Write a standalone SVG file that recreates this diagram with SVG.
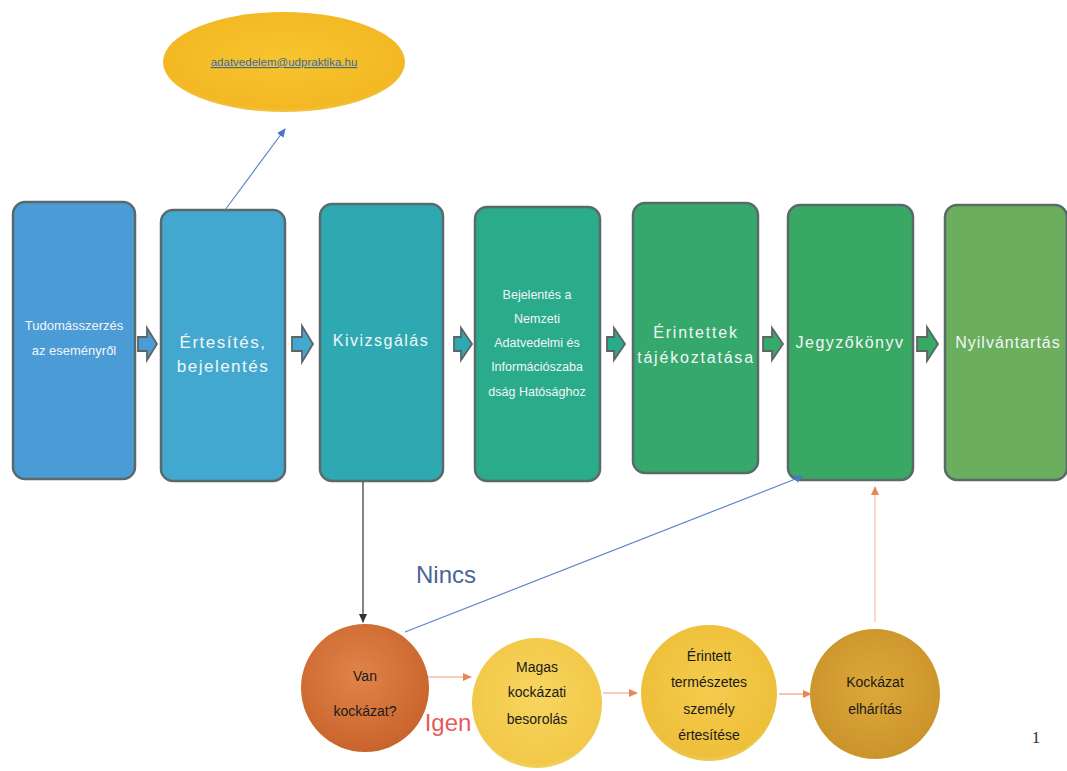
<svg xmlns="http://www.w3.org/2000/svg" width="1067" height="771" viewBox="0 0 1067 771">
<defs>
<style>
.box{stroke:#5a6a6a;stroke-width:2.5}
.bt{font-family:"Liberation Sans Narrow","Liberation Sans",sans-serif;fill:#f2f6f6;text-anchor:middle}
.ct{font-family:"Liberation Sans Narrow","Liberation Sans",sans-serif;fill:#1a1a1a;text-anchor:middle;font-size:14px}
.ba{stroke:#5e6464;stroke-width:1.8}
</style>
<radialGradient id="gO" cx="0.45" cy="0.4" r="0.6"><stop offset="0" stop-color="#e0844a"/><stop offset="1" stop-color="#c9642c"/></radialGradient>
<radialGradient id="gY" cx="0.5" cy="0.45" r="0.6"><stop offset="0" stop-color="#f7d660"/><stop offset="0.85" stop-color="#f2c848"/><stop offset="1" stop-color="#e8e07a"/></radialGradient>
<radialGradient id="gY2" cx="0.5" cy="0.45" r="0.6"><stop offset="0" stop-color="#f5cc4e"/><stop offset="0.85" stop-color="#eebf3a"/><stop offset="1" stop-color="#e2dc70"/></radialGradient>
<radialGradient id="gB" cx="0.5" cy="0.45" r="0.6"><stop offset="0" stop-color="#dca83a"/><stop offset="1" stop-color="#c9922a"/></radialGradient>
<radialGradient id="gE" cx="0.5" cy="0.45" r="0.6"><stop offset="0" stop-color="#f7c52e"/><stop offset="0.85" stop-color="#f3b824"/><stop offset="1" stop-color="#f0d070"/></radialGradient>
<marker id="mb" markerWidth="10" markerHeight="10" refX="8" refY="5" orient="auto" markerUnits="userSpaceOnUse"><path d="M0,1 L9,5 L0,9 z" fill="#4a78c0"/></marker>
<marker id="mk" markerWidth="10" markerHeight="10" refX="8" refY="5" orient="auto" markerUnits="userSpaceOnUse"><path d="M0,1 L9,5 L0,9 z" fill="#333"/></marker>
<marker id="mo" markerWidth="10" markerHeight="10" refX="8" refY="5" orient="auto" markerUnits="userSpaceOnUse"><path d="M0,1 L9,5 L0,9 z" fill="#e8885a"/></marker>
</defs>
<rect width="1067" height="771" fill="#ffffff"/>

<g id="email">
<ellipse cx="284" cy="62" rx="121" ry="50" fill="url(#gE)"/>
<text x="284" y="66" font-family="Liberation Sans Narrow,Liberation Sans,sans-serif" font-size="11.5" fill="#3a6aa0" text-anchor="middle" text-decoration="underline">adatvedelem@udpraktika.hu</text>
</g>

<g id="n1"><rect class="box" x="13" y="202" width="122" height="277" rx="12" fill="#4b9bd6"/>
<text class="bt" font-size="13"><tspan x="74" y="330">Tudomásszerzés</tspan><tspan x="74" y="355">az eseményről</tspan></text></g>
<g id="n2"><rect class="box" x="161" y="210" width="124" height="271" rx="12" fill="#42a8d0"/>
<text class="bt" font-size="17" letter-spacing="1.5"><tspan x="223" y="348">Értesítés,</tspan><tspan x="223" y="372">bejelentés</tspan></text></g>
<g id="n3"><rect class="box" x="320" y="204" width="123" height="277" rx="12" fill="#2ea9b2"/>
<text class="bt" font-size="16" letter-spacing="1.5" x="381" y="346">Kivizsgálás</text></g>
<g id="n4"><rect class="box" x="475" y="207" width="125" height="274" rx="12" fill="#2aab8c"/>
<text class="bt" font-size="12.5"><tspan x="537" y="299">Bejelentés a</tspan><tspan x="537" y="323">Nemzeti</tspan><tspan x="537" y="347">Adatvedelmi és</tspan><tspan x="537" y="371">Információszaba</tspan><tspan x="537" y="396">dság Hatósághoz</tspan></text></g>
<g id="n5"><rect class="box" x="633" y="203" width="125" height="270" rx="12" fill="#35a86c"/>
<text class="bt" font-size="16" letter-spacing="1.8"><tspan x="696" y="338">Érintettek</tspan><tspan x="696" y="363">tájékoztatása</tspan></text></g>
<g id="n6"><rect class="box" x="788" y="205" width="125" height="275" rx="12" fill="#3aa865"/>
<text class="bt" font-size="16" letter-spacing="1.5" x="850" y="348">Jegyzőkönyv</text></g>
<g id="n7"><rect class="box" x="945" y="205" width="122" height="275" rx="12" fill="#6aae5e"/>
<text class="bt" font-size="16" letter-spacing="1" x="1008" y="348">Nyilvántartás</text></g>

<g id="c1"><circle cx="365" cy="688" r="64" fill="url(#gO)"/>
<text class="ct"><tspan x="365" y="681">Van</tspan><tspan x="365" y="716">kockázat?</tspan></text></g>
<g id="c2"><circle cx="537" cy="703" r="65" fill="url(#gY)"/>
<text class="ct"><tspan x="537" y="672">Magas</tspan><tspan x="537" y="697">kockázati</tspan><tspan x="537" y="724">besorolás</tspan></text></g>
<g id="c3"><circle cx="709" cy="693" r="68" fill="url(#gY2)"/>
<text class="ct"><tspan x="709" y="661">Érintett</tspan><tspan x="709" y="687">természetes</tspan><tspan x="709" y="714">személy</tspan><tspan x="709" y="740">értesítése</tspan></text></g>
<g id="c4"><circle cx="875" cy="694" r="65" fill="url(#gB)"/>
<text class="ct"><tspan x="875" y="687">Kockázat</tspan><tspan x="875" y="714">elhárítás</tspan></text></g>

<g id="connectors">
<path class="ba" d="M138,337 h9 v-9 l10,16 l-10,16 v-9 h-9 z" fill="#4b9bd6"/>
<path class="ba" d="M292,337 h10 v-11 l11,18 l-11,18 v-11 h-10 z" fill="#42a8d0"/>
<path class="ba" d="M454,337 h7 v-9 l11,16 l-11,16 v-9 h-7 z" fill="#2ea9b2"/>
<path class="ba" d="M607,337 h7 v-9 l11,16 l-11,16 v-9 h-7 z" fill="#2aab8c"/>
<path class="ba" d="M763,337 h9 v-9 l11,16 l-11,16 v-9 h-9 z" fill="#35a86c"/>
<path class="ba" d="M917,337 h10 v-10 l11,17 l-11,17 v-10 h-10 z" fill="#3aa865"/>
<line x1="225" y1="210" x2="285" y2="129" stroke="#5a86c8" stroke-width="1.2" marker-end="url(#mb)"/>
<line x1="363" y1="482" x2="363" y2="622" stroke="#333" stroke-width="1.2" marker-end="url(#mk)"/>
<line x1="405" y1="632" x2="803" y2="476" stroke="#5a86c8" stroke-width="1.2" marker-end="url(#mb)"/>
<line x1="428" y1="677" x2="471" y2="677" stroke="#eea080" stroke-width="1.2" marker-end="url(#mo)"/>
<line x1="603" y1="693" x2="637" y2="693" stroke="#eea080" stroke-width="1.2" marker-end="url(#mo)"/>
<line x1="779" y1="694" x2="811" y2="694" stroke="#eea080" stroke-width="1.2" marker-end="url(#mo)"/>
<line x1="875" y1="622" x2="875" y2="487" stroke="#f0c0a8" stroke-width="1.2" marker-end="url(#mo)"/>
</g>

<text x="446" y="583" font-family="Liberation Sans Narrow,Liberation Sans,sans-serif" font-size="24" fill="#4a6494" text-anchor="middle">Nincs</text>
<text x="448" y="731" font-family="Liberation Sans Narrow,Liberation Sans,sans-serif" font-size="24" fill="#e85a5a" text-anchor="middle">Igen</text>
<text x="1036" y="743" font-family="Liberation Serif,serif" font-size="17" fill="#333" text-anchor="middle">1</text>
</svg>
